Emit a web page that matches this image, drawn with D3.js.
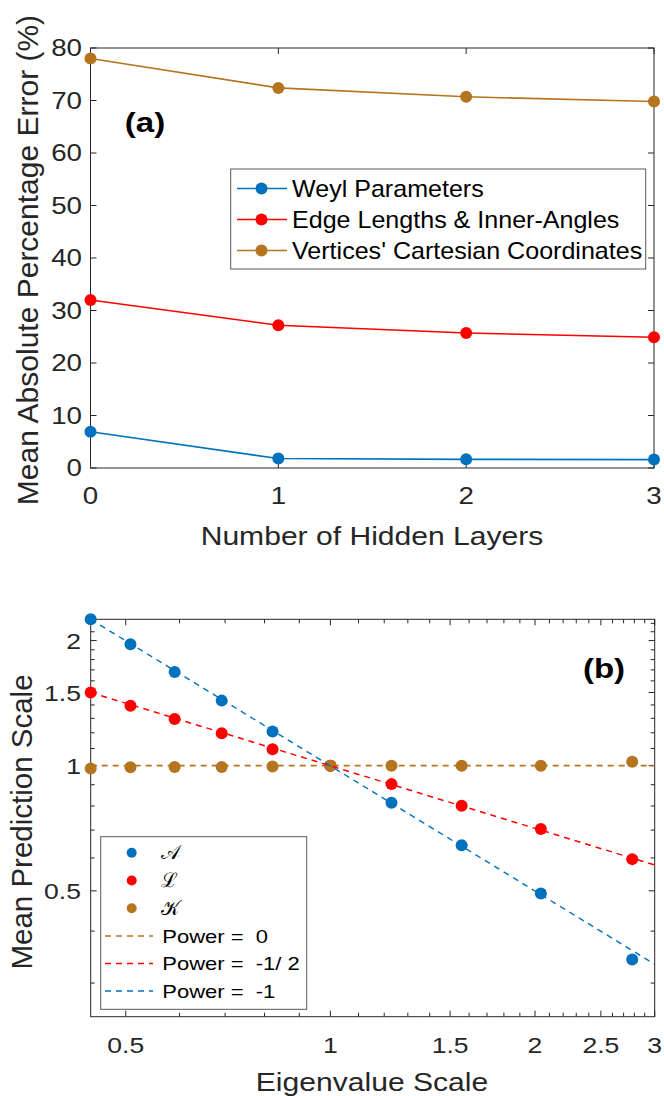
<!DOCTYPE html>
<html>
<head>
<meta charset="utf-8">
<script src="https://cdn.jsdelivr.net/npm/d3@7"></script>
<style>
  body { margin: 0; background: #fff; }
  svg { display: block; font-family: "Liberation Sans", Arial, sans-serif; }
  text { white-space: pre; }
</style>
</head>
<body>
<svg id="fig" width="664" height="1096"></svg>
<script>
// ---- panel (a) data ----
var layers = [0, 1, 2, 3];
var weyl = [6.9, 1.8, 1.65, 1.6];
var edges = [32.0, 27.2, 25.7, 24.9];
var vertices = [78.0, 72.4, 70.7, 69.8];
var aYTicks = [0, 10, 20, 30, 40, 50, 60, 70, 80];
var aNames = ["Weyl Parameters", "Edge Lengths & Inner-Angles", "Vertices' Cartesian Coordinates"];

// ---- panel (b) data ----
var eig = [0.444, 0.508, 0.590, 0.692, 0.822, 1.0, 1.23, 1.56, 2.04, 2.78];
var predA = [2.25, 1.96, 1.68, 1.434, 1.208, 1.0, 0.815, 0.644, 0.493, 0.342];
var predL = [1.5, 1.393, 1.296, 1.197, 1.095, 1.0, 0.903, 0.801, 0.704, 0.596];
var predK = [0.985, 0.992, 0.993, 0.993, 0.995, 1.0, 1.0, 1.0, 1.0, 1.022];
// power-law guide lines, given by their two end points
var fitX = [0.444, 3];
var fitP0 = [1, 1];
var fitPHalf = [1.5, 0.577];
var fitP1 = [2.25, 0.333];
var bXLabels = [0.5, 1, 1.5, 2, 2.5, 3];
var bYLabels = [0.5, 1, 1.5, 2];

var BLUE = "#0072bd", RED = "#ff0000", BROWN = "#b5741e", AX = "#262626";
var SX = 1.18; // horizontal stretch of the reference's text

var svg = d3.select("#fig");

// text drawn inside a translated + stretched group
function label(parent, x, y, str, size, opt) {
  opt = opt || {};
  var tr = "translate(" + x + "," + y + ")";
  if (opt.rotate) tr += " rotate(-90)";
  else tr += " scale(" + (opt.sx || SX) + ",1)";
  return parent.append("g").attr("transform", tr).append("text")
    .attr("xml:space", "preserve")
    .attr("text-anchor", opt.anchor || "middle")
    .attr("dy", opt.dy || 0)
    .attr("font-size", size)
    .attr("font-weight", opt.bold ? "bold" : null)
    .attr("font-style", opt.italic ? "italic" : null)
    .attr("font-family", opt.family || null)
    .attr("fill", opt.fill || AX)
    .text(str);
}

/************ panel (a) ************/
var ax = d3.scaleLinear().domain([0, 3]).range([90.5, 654]);
var ay = d3.scaleLinear().domain([0, 80]).range([468, 48]);
var ga = svg.append("g");

// ticks (inside, on all four sides)
layers.forEach(function(v) {
  ga.append("line").attr("x1", ax(v)).attr("x2", ax(v)).attr("y1", 468).attr("y2", 462).attr("stroke", AX);
  ga.append("line").attr("x1", ax(v)).attr("x2", ax(v)).attr("y1", 48).attr("y2", 54).attr("stroke", AX);
  label(ga, ax(v), 504, v, 23.5);
});
aYTicks.forEach(function(v) {
  ga.append("line").attr("x1", 90.5).attr("x2", 96.5).attr("y1", ay(v)).attr("y2", ay(v)).attr("stroke", AX);
  ga.append("line").attr("x1", 654).attr("x2", 648).attr("y1", ay(v)).attr("y2", ay(v)).attr("stroke", AX);
  label(ga, 82, ay(v), v, 23.5, {anchor: "end", dy: "0.36em"});
});
ga.append("rect").attr("x", 90.5).attr("y", 48).attr("width", 654 - 90.5).attr("height", 420)
  .attr("fill", "none").attr("stroke", AX).attr("stroke-width", 1);

var aSeries = [weyl, edges, vertices];
var aColors = [BLUE, RED, BROWN];
var lineA = d3.line().x(function(d, i) { return ax(layers[i]); }).y(function(d) { return ay(d); });
aSeries.forEach(function(s, k) {
  ga.append("path").attr("d", lineA(s)).attr("fill", "none").attr("stroke", aColors[k]).attr("stroke-width", 1.6);
  ga.selectAll(null).data(s).enter().append("circle")
    .attr("cx", function(d, i) { return ax(layers[i]); })
    .attr("cy", function(d) { return ay(d); })
    .attr("r", 6).attr("fill", aColors[k]);
});

label(ga, 372, 545, "Number of Hidden Layers", 25.5);
label(ga, 38, 260, "Mean Absolute Percentage Error (%)", 30, {rotate: true});
label(ga, 145, 132, "(a)", 28, {bold: true, fill: "#000"});

// legend (a)
var la = ga.append("g");
la.append("rect").attr("x", 230.7).attr("y", 169).attr("width", 415).attr("height", 100)
  .attr("fill", "#fff").attr("stroke", "#5a5a5a").attr("stroke-width", 1);
aNames.forEach(function(n, k) {
  var yy = 188.5 + k * 31;
  la.append("line").attr("x1", 237).attr("x2", 287).attr("y1", yy).attr("y2", yy).attr("stroke", aColors[k]).attr("stroke-width", 1.6);
  la.append("circle").attr("cx", 261.5).attr("cy", yy).attr("r", 6).attr("fill", aColors[k]);
  label(la, 292, yy, n, 23, {anchor: "start", dy: "0.36em", fill: "#000", sx: 1.09});
});

/************ panel (b) ************/
var bx = d3.scaleLog().domain([0.444, 3]).range([90.7, 654.7]);
var by = d3.scaleLog().domain([0.249, 2.25]).range([1016.7, 619.3]);
var gb = svg.append("g");

var xMinor = d3.range(5, 31).map(function(d) { return d / 10; });
var yMinor = d3.range(3, 23).map(function(d) { return d / 10; });
xMinor.forEach(function(v) {
  var major = bXLabels.some(function(m) { return Math.abs(m - v) < 1e-9; });
  var L = major ? 6 : 4;
  gb.append("line").attr("x1", bx(v)).attr("x2", bx(v)).attr("y1", 1016.7).attr("y2", 1016.7 - L).attr("stroke", AX);
  gb.append("line").attr("x1", bx(v)).attr("x2", bx(v)).attr("y1", 619.3).attr("y2", 619.3 + L).attr("stroke", AX);
});
yMinor.forEach(function(v) {
  var major = bYLabels.some(function(m) { return Math.abs(m - v) < 1e-9; });
  var L = major ? 6 : 4;
  gb.append("line").attr("x1", 90.7).attr("x2", 90.7 + L).attr("y1", by(v)).attr("y2", by(v)).attr("stroke", AX);
  gb.append("line").attr("x1", 654.7).attr("x2", 654.7 - L).attr("y1", by(v)).attr("y2", by(v)).attr("stroke", AX);
});
bXLabels.forEach(function(v) { label(gb, bx(v), 1053, v, 22.5); });
bYLabels.forEach(function(v) { label(gb, 81, by(v), v, 22.5, {anchor: "end", dy: "0.36em"}); });
gb.append("rect").attr("x", 90.7).attr("y", 619.3).attr("width", 654.7 - 90.7).attr("height", 1016.7 - 619.3)
  .attr("fill", "none").attr("stroke", AX).attr("stroke-width", 1);

gb.append("clipPath").attr("id", "clipb").append("rect")
  .attr("x", 90.7).attr("y", 619.3).attr("width", 564).attr("height", 397.4);

var bPts = [predA, predL, predK];
var bColors = [BLUE, RED, BROWN];
bPts.forEach(function(s, k) {
  gb.selectAll(null).data(s).enter().append("circle")
    .attr("cx", function(d, i) { return bx(eig[i]); })
    .attr("cy", function(d) { return by(d); })
    .attr("r", 6).attr("fill", bColors[k]);
});

var fits = [fitP0, fitPHalf, fitP1];
var fitColors = [BROWN, RED, BLUE];
var fitWidth = [1.8, 1.5, 1.4];
var lineB = d3.line().x(function(d, i) { return bx(fitX[i]); }).y(function(d) { return by(d); });
fits.forEach(function(f, k) {
  gb.append("path").attr("d", lineB(f)).attr("clip-path", "url(#clipb)")
    .attr("fill", "none").attr("stroke", fitColors[k]).attr("stroke-width", fitWidth[k])
    .attr("stroke-dasharray", "6,5");
});

label(gb, 372, 1091, "Eigenvalue Scale", 25.5);
label(gb, 32, 822, "Mean Prediction Scale", 29.5, {rotate: true});
label(gb, 604, 678, "(b)", 28, {bold: true, fill: "#000"});

// legend (b)
var lb = gb.append("g");
lb.append("rect").attr("x", 100.7).attr("y", 836.7).attr("width", 206).attr("height", 172.6)
  .attr("fill", "#fff").attr("stroke", "#5a5a5a").attr("stroke-width", 1);
var symNames = ["\u{1D49C}", "\u2112", "\u{1D4A6}"];
symNames.forEach(function(n, k) {
  var yy = 852.7 + k * 27.8;
  lb.append("circle").attr("cx", 131.7).attr("cy", yy).attr("r", 5).attr("fill", bColors[k]);
  label(lb, 161, yy, n, 20, {anchor: "start", dy: "0.33em", fill: "#000", sx: 1, family: "DejaVu Serif"});
});
var powNames = ["Power =  0", "Power =  -1/ 2", "Power =  -1"];
powNames.forEach(function(n, k) {
  var yy = 936 + k * 27.5;
  lb.append("line").attr("x1", 105).attr("x2", 153).attr("y1", yy).attr("y2", yy)
    .attr("stroke", fitColors[k]).attr("stroke-width", 1.5).attr("stroke-dasharray", "6,5");
  label(lb, 162.3, yy, n, 18.8, {anchor: "start", dy: "0.36em", fill: "#000", sx: 1.17});
});
</script>
</body>
</html>
